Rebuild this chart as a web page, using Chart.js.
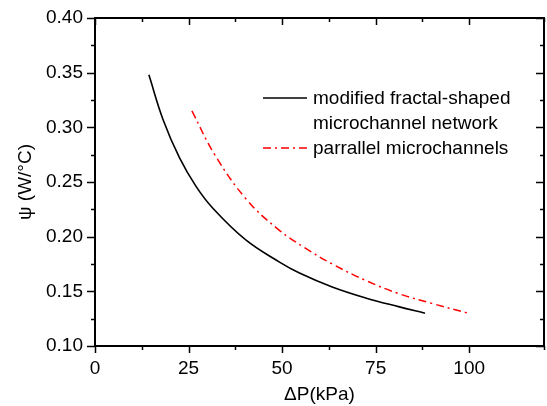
<!DOCTYPE html>
<html>
<head>
<meta charset="utf-8">
<script src="https://cdn.jsdelivr.net/npm/chart.js@4.4.0/dist/chart.umd.min.js"></script>
<style>
html,body{margin:0;padding:0;background:#fff;}
#wrap{width:547px;height:406px;}
</style>
</head>
<body>
<div id="wrap"><canvas id="c" width="547" height="406"></canvas></div>
<script>
// Data
const fractalX = [14.4, 18.2, 22.6, 27.0, 31.5, 40.3, 49.2, 54.5, 63.4, 72.3, 81.1, 88.2];
const fractalY = [0.348, 0.307, 0.272, 0.246, 0.226, 0.197, 0.177, 0.167, 0.154, 0.144, 0.136, 0.130];
const parallelX = [25.9, 32.0, 40.5, 49.2, 56.0, 63.4, 72.3, 81.1, 90.0, 99.7];
const parallelY = [0.315, 0.275, 0.234, 0.206, 0.190, 0.175, 0.160, 0.148, 0.139, 0.130];
const seriesNames = [["modified fractal-shaped", "microchannel network"], ["parrallel microchannels"]];
const xTickLabels = [0, 25, 50, 75, 100];
const yTickLabels = [0.10, 0.15, 0.20, 0.25, 0.30, 0.35, 0.40];
const xTitle = "\u0394P(kPa)";
const yTitle = "\u03C8 (W/\u00B0C)";

const FONT = "'Liberation Sans', Arial, Helvetica, sans-serif";

function pts(xs, ys){ return xs.map((v,i)=>({x:v, y:ys[i]})); }
const isMajorX = v => xTickLabels.some(t => Math.abs(t - v) < 1e-6);
const isMajorY = v => yTickLabels.some(t => Math.abs(t - v) < 1e-6);

const framePlugin = {
  id: 'frame',
  afterDraw(chart){
    const ctx = chart.ctx;
    const {left, right, top, bottom} = chart.chartArea;
    const xs = chart.scales.x, ys = chart.scales.y;
    ctx.save();
    ctx.strokeStyle = '#000';
    ctx.lineWidth = 2;
    ctx.lineCap = 'butt';
    ctx.beginPath();
    ctx.rect(left, top, right - left, bottom - top);
    ctx.stroke();
    ctx.lineWidth = 1.5;
    ctx.beginPath();
    xs.ticks.forEach(t => {
      const p = Math.round(xs.getPixelForValue(t.value)) + 0.5;
      const L = isMajorX(t.value) ? 7 : 4;
      ctx.moveTo(p, bottom); ctx.lineTo(p, bottom + L);
      ctx.moveTo(p, top); ctx.lineTo(p, top + L);
    });
    ys.ticks.forEach(t => {
      const p = Math.round(ys.getPixelForValue(t.value)) + 0.5;
      const L = isMajorY(t.value) ? 8 : 4;
      ctx.moveTo(left, p); ctx.lineTo(left - L, p);
      ctx.moveTo(right, p); ctx.lineTo(right - L, p);
    });
    ctx.stroke();

    // legend
    const ds = chart.data.datasets;
    const lx1 = 263, lx2 = 307, tx = 313;
    const rows = [98, 148];
    ctx.font = '19px ' + FONT;
    ctx.fillStyle = '#000';
    ctx.textBaseline = 'middle';
    ctx.textAlign = 'left';
    ds.forEach((d, i) => {
      const yy = rows[i];
      ctx.save();
      ctx.strokeStyle = d.borderColor;
      ctx.lineWidth = d.borderWidth;
      ctx.setLineDash(d.borderDash || []);
      ctx.beginPath();
      ctx.moveTo(lx1, yy); ctx.lineTo(lx2, yy);
      ctx.stroke();
      ctx.restore();
      seriesNames[i].forEach((s, k) => ctx.fillText(s, tx, yy + 1 + k * 25));
    });
    ctx.restore();
  }
};

new Chart(document.getElementById('c'), {
  type: 'line',
  data: {
    datasets: [
      { label: seriesNames[0].join(' '), data: pts(fractalX, fractalY), borderColor: '#000000', borderWidth: 1.6,
        pointRadius: 0, tension: 0.4, fill: false },
      { label: seriesNames[1].join(' '), data: pts(parallelX, parallelY), borderColor: '#ff0000', borderWidth: 1.5,
        borderDash: [8, 4, 2, 4], pointRadius: 0, tension: 0.4, fill: false }
    ]
  },
  options: {
    responsive: false,
    animation: false,
    devicePixelRatio: 1,
    layout: { padding: { top: 18, right: 2, left: 0, bottom: 0 } },
    plugins: { legend: { display: false }, tooltip: { enabled: false } },
    scales: {
      x: {
        type: 'linear', min: 0, max: 120,
        afterFit: s => { s.height = 60; },
        ticks: { stepSize: 12.5, autoSkip: false, maxRotation: 0, padding: 3, color: '#000',
          font: { family: FONT, size: 19 },
          callback: v => isMajorX(v) ? String(v) : '' },
        grid: { drawOnChartArea: false, tickLength: 8, tickColor: 'rgba(0,0,0,0)' },
        border: { display: false },
        title: { display: true, text: xTitle, color: '#000', font: { family: FONT, size: 19 }, padding: { top: 2, bottom: 0 } }
      },
      y: {
        type: 'linear', min: 0.1, max: 0.4,
        afterFit: s => { s.width = 95; },
        ticks: { stepSize: 0.025, autoSkip: false, padding: 4, color: '#000',
          font: { family: FONT, size: 19 },
          callback: v => isMajorY(v) ? v.toFixed(2) : '' },
        grid: { drawOnChartArea: false, tickLength: 8, tickColor: 'rgba(0,0,0,0)' },
        border: { display: false },
        title: { display: true, text: yTitle, color: '#000', font: { family: FONT, size: 19 }, padding: { top: 14, bottom: 4 } }
      }
    }
  },
  plugins: [framePlugin]
});
</script>
</body>
</html>
